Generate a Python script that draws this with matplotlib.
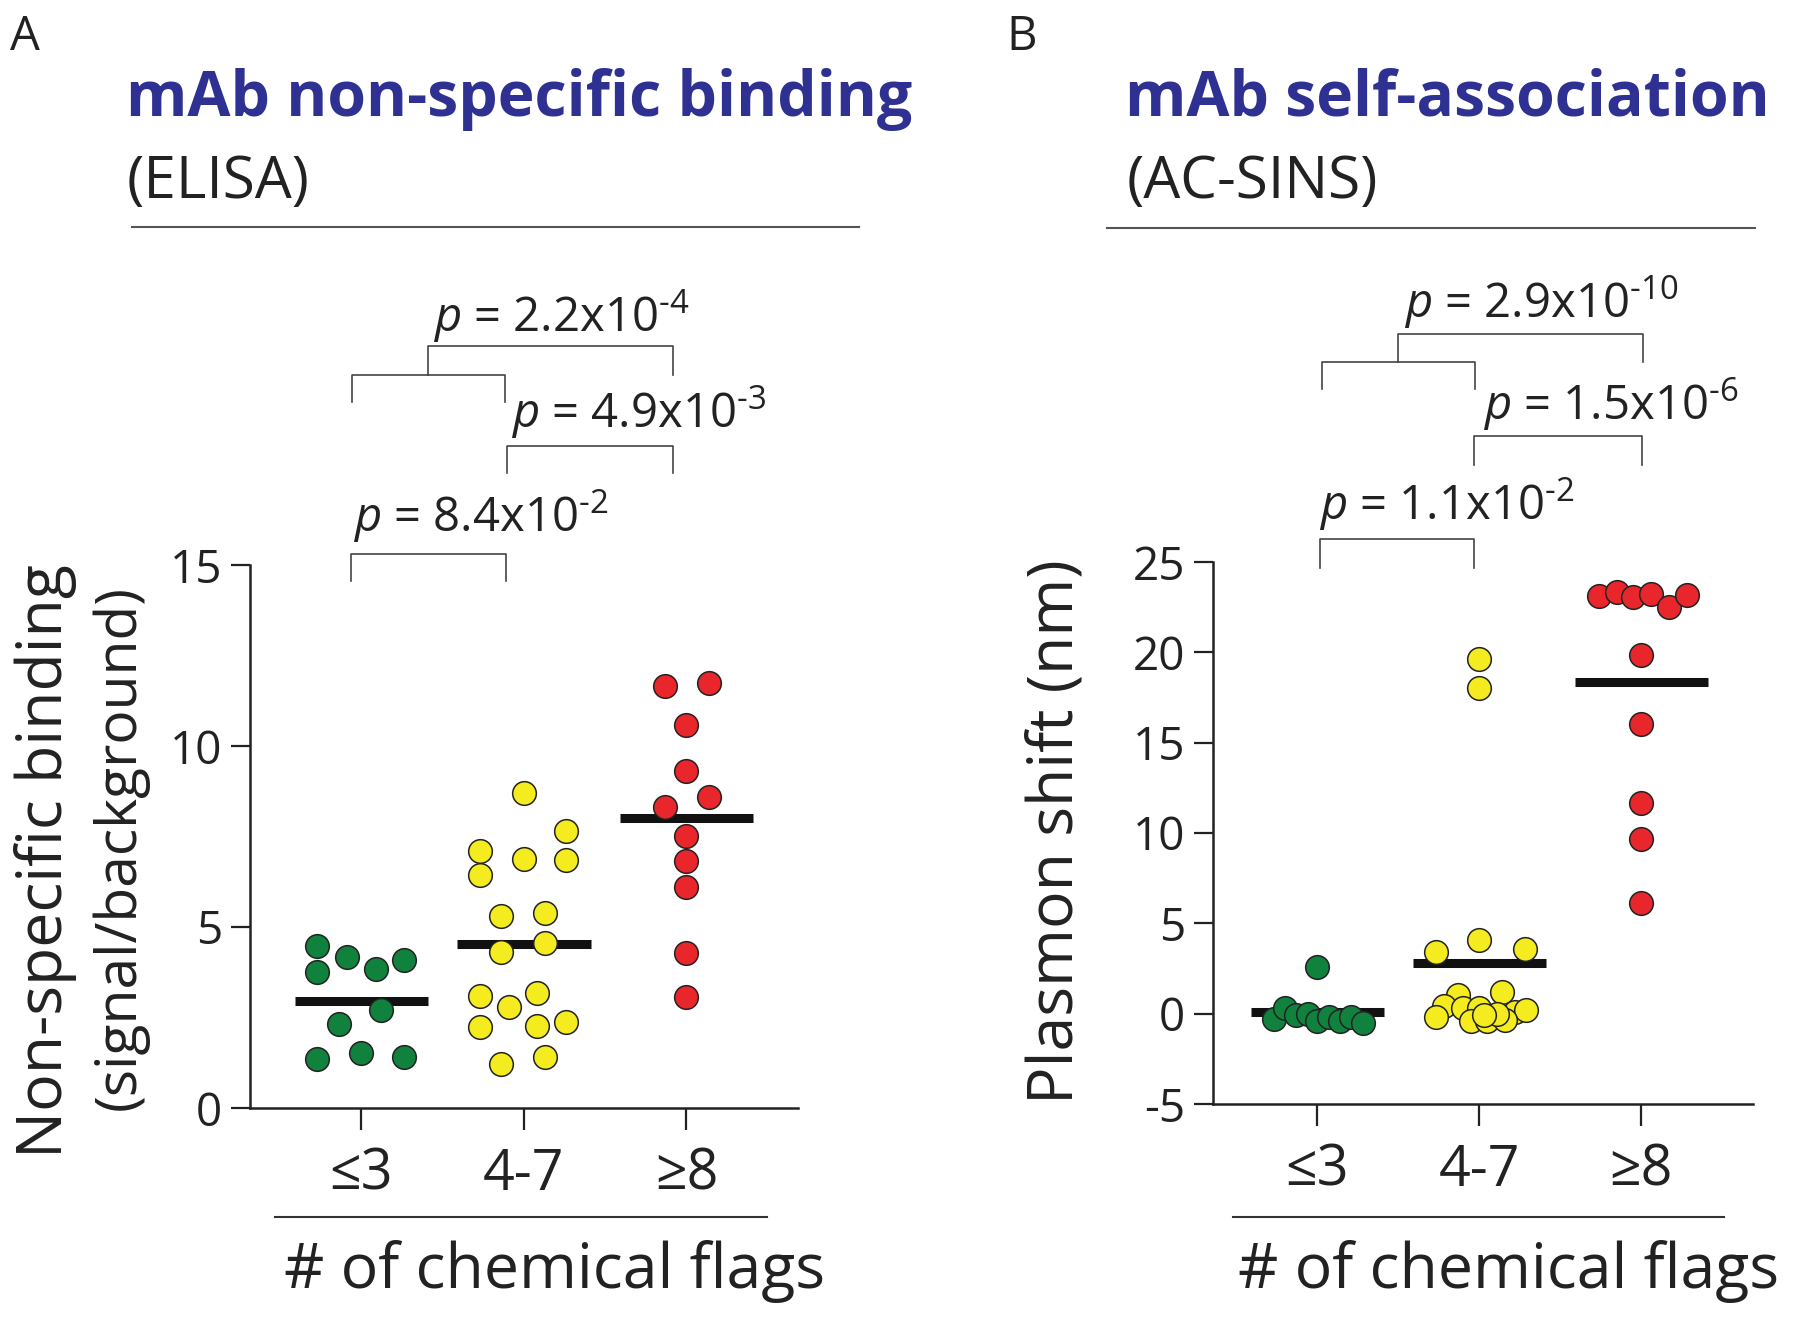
import matplotlib
matplotlib.use('Agg')
import matplotlib.pyplot as plt
from matplotlib.lines import Line2D
import numpy as np

plt.rcParams['font.family'] = ['Open Sans', 'DejaVu Sans']
plt.rcParams['mathtext.fontset'] = 'custom'
plt.rcParams['mathtext.rm'] = 'Open Sans'
plt.rcParams['mathtext.it'] = 'Open Sans:italic'
plt.rcParams['axes.unicode_minus'] = False

# ------------------------------------
# Data
# ------------------------------------
categories = ['≤3', '4-7', '≥8']

# Panel A: non-specific binding (ELISA), signal/background
elisa_low = [4.47, 4.16, 4.08, 3.84, 3.77, 2.70, 2.31, 1.53, 1.36, 1.40]
elisa_low_dx = [-0.27, -0.09, 0.26, 0.09, -0.27, 0.12, -0.14, 0.0, -0.27, 0.26]
elisa_mid = [8.71, 7.66, 7.09, 6.89, 6.84, 6.45, 5.30, 5.39, 4.56, 4.31,
             3.10, 3.18, 2.80, 2.24, 2.27, 2.37, 1.40, 1.21]
elisa_mid_dx = [0.0, 0.26, -0.27, 0.0, 0.26, -0.27, -0.14, 0.13, 0.13, -0.14,
                -0.27, 0.08, -0.09, -0.27, 0.08, 0.26, 0.13, -0.14]
elisa_high = [11.67, 11.75, 10.57, 9.31, 8.60, 8.32, 7.51, 6.82, 6.10, 4.29, 3.06]
elisa_high_dx = [-0.13, 0.14, 0.0, 0.0, 0.14, -0.13, 0.0, 0.0, 0.0, 0.0, 0.0]

# Panel B: self-association (AC-SINS), plasmon shift (nm)
sins_low = [2.60, -0.27, 0.31, -0.10, 0.0, -0.41, -0.16, -0.41, -0.20, -0.51]
sins_low_dx = [0.0, -0.27, -0.20, -0.13, -0.06, 0.0, 0.07, 0.14, 0.21, 0.28]
sins_mid = [19.63, 18.0, 4.09, 3.44, 3.58, 1.02, 1.19, 0.45, 0.31, 0.31,
            0.10, 0.20, -0.20, -0.41, -0.41, -0.37, 0.0, -0.10]
sins_mid_dx = [0.0, 0.0, 0.0, -0.27, 0.28, -0.13, 0.14, -0.22, -0.10, 0.0,
               0.22, 0.29, -0.27, -0.05, 0.05, 0.16, 0.11, 0.03]
sins_high = [23.10, 23.35, 23.07, 23.25, 22.50, 23.20, 19.84, 16.05, 11.66, 9.65, 6.13]
sins_high_dx = [-0.26, -0.15, -0.05, 0.06, 0.17, 0.28, 0.0, 0.0, 0.0, 0.0, 0.0]

colors = ['#11813e', '#f5ec1f', '#e8262b']
title_blue = '#2e3192'

W, H = 1800, 1318
fig = plt.figure(figsize=(18, 13.18), dpi=100)


def fx(px):
    return px / W


def fy(py):
    return 1 - py / H


def fig_line(xs, ys, color='#444444', lw=1.2):
    fig.add_artist(Line2D([fx(x) for x in xs], [fy(y) for y in ys],
                          color=color, lw=lw, transform=fig.transFigure))


def setup_axes(ax, ylim, yticks, xlim):
    ax.set_xlim(xlim)
    ax.set_ylim(ylim)
    ax.set_yticks(yticks)
    ax.set_xticks(range(len(categories)))
    ax.set_xticklabels(categories, fontsize=40)
    ax.tick_params(axis='y', length=14, width=1.6, labelsize=33, pad=6, colors='#222222')
    ax.tick_params(axis='x', length=16, width=1.6, pad=12, colors='#222222')
    for s in ['top', 'right']:
        ax.spines[s].set_visible(False)
    for s in ['left', 'bottom']:
        ax.spines[s].set_linewidth(1.8)
        ax.spines[s].set_color('#222222')


def draw_groups(ax, groups):
    for i, (vals, dx) in enumerate(groups):
        xs = i + np.array(dx)
        ax.scatter(xs, vals, s=290, color=colors[i], edgecolor='#222222',
                   linewidth=1.1, zorder=3, clip_on=False)
        m = np.mean(vals)
        ax.plot([i - 0.41, i + 0.41], [m, m], color='#111111', lw=6.5,
                solid_capstyle='butt', zorder=2)


# ------------------------------------
# Panel A
# ------------------------------------
axA = fig.add_axes([fx(250), fy(1108), fx(798) - fx(250), fy(565) - fy(1108)])
setup_axes(axA, (0, 15), [0, 5, 10, 15], (-0.685, 2.686))
draw_groups(axA, [(elisa_low, elisa_low_dx), (elisa_mid, elisa_mid_dx),
                  (elisa_high, elisa_high_dx)])

# ------------------------------------
# Panel B
# ------------------------------------
axB = fig.add_axes([fx(1213), fy(1104), fx(1753) - fx(1213), fy(562) - fy(1104)])
setup_axes(axB, (-5, 25), [-5, 0, 5, 10, 15, 20, 25], (-0.645, 2.69))
draw_groups(axB, [(sins_low, sins_low_dx), (sins_mid, sins_mid_dx),
                  (sins_high, sins_high_dx)])

# ------------------------------------
# Titles, labels
# ------------------------------------
fig.text(fx(10), fy(50), 'A', fontsize=34, va='baseline', color='#222222')
fig.text(fx(1006), fy(50), 'B', fontsize=34, va='baseline', color='#222222')

fig.text(fx(126), fy(116), 'mAb non-specific binding', fontsize=45,
         fontweight='bold', color=title_blue, va='baseline')
fig.text(fx(127), fy(198), '(ELISA)', fontsize=42, va='baseline', color='#222222')
fig_line([132, 859], [227, 227], color='#555555', lw=1.5)

fig.text(fx(1125), fy(116), 'mAb self-association', fontsize=45,
         fontweight='bold', color=title_blue, va='baseline')
fig.text(fx(1127), fy(198), '(AC-SINS)', fontsize=42, va='baseline', color='#222222')
fig_line([1107, 1755], [228, 228], color='#555555', lw=1.5)

fig.text(fx(46), fy(861), 'Non-specific binding', fontsize=45, rotation=90,
         ha='center', va='center', color='#222222')
fig.text(fx(120), fy(848), '(signal/background)', fontsize=41, rotation=90,
         ha='center', va='center', color='#222222')
fig.text(fx(1056), fy(832), 'Plasmon shift (nm)', fontsize=45, rotation=90,
         ha='center', va='center', color='#222222')

for xa, xb, xc in [(275, 767, 555), (1233, 1724, 1508)]:
    fig_line([xa, xb], [1217, 1217], color='#333333', lw=1.5)
    fig.text(fx(xc), fy(1288), '# of chemical flags', fontsize=45,
             ha='center', va='baseline', color='#222222')

# ------------------------------------
# p-value brackets
# ------------------------------------
brackets = [
    ([428, 428, 673, 673], [375, 346, 346, 375]),
    ([352, 352, 505, 505], [402, 375, 375, 402]),
    ([507, 507, 673, 673], [473, 446, 446, 473]),
    ([351, 351, 506, 506], [581, 554, 554, 581]),
    ([1398, 1398, 1643, 1643], [362, 334, 334, 362]),
    ([1322, 1322, 1475, 1475], [389, 362, 362, 389]),
    ([1474, 1474, 1642, 1642], [465, 436, 436, 465]),
    ([1320, 1320, 1474, 1474], [568, 539, 539, 568]),
]
for xs, ys in brackets:
    fig_line(xs, ys)

p_labels = [
    (433, 332, r'$p$ = 2.2x10$^{\text{-4}}$'),
    (511, 428, r'$p$ = 4.9x10$^{\text{-3}}$'),
    (353, 532, r'$p$ = 8.4x10$^{\text{-2}}$'),
    (1404, 318, r'$p$ = 2.9x10$^{\text{-10}}$'),
    (1483, 420, r'$p$ = 1.5x10$^{\text{-6}}$'),
    (1319, 520, r'$p$ = 1.1x10$^{\text{-2}}$'),
]
for x, y, t in p_labels:
    fig.text(fx(x), fy(y), t, fontsize=34, va='baseline', color='#222222')

fig.savefig('out.png', dpi=100, facecolor='white')
